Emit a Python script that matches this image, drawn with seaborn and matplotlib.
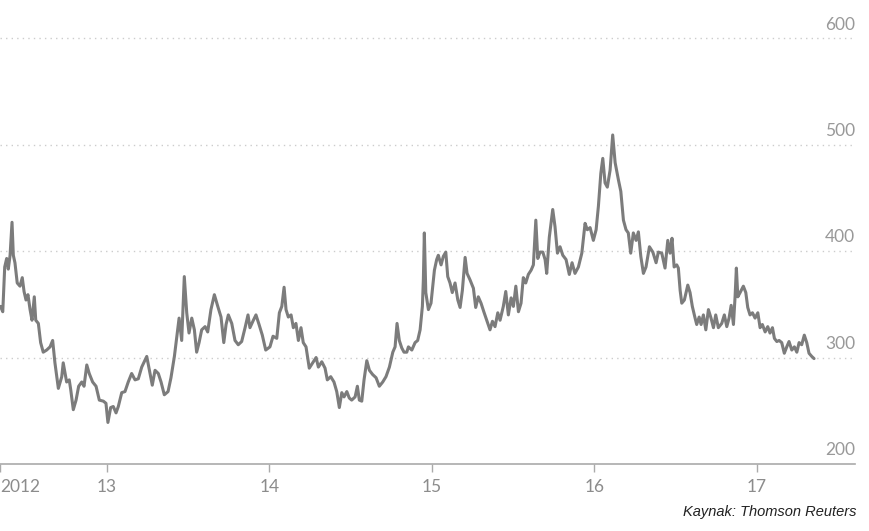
import pandas as pd
import matplotlib
matplotlib.use('Agg')
import matplotlib.pyplot as plt
import seaborn as sns

# zaman (ondalik yil) ve deger - grafikten okunan noktalar
yil = [
    2012.345, 2012.359, 2012.371, 2012.383, 2012.393, 2012.404, 2012.416, 2012.424, 2012.434, 2012.448, 2012.465,
    2012.479, 2012.490, 2012.502, 2012.514, 2012.527, 2012.539, 2012.553, 2012.562, 2012.578, 2012.592, 2012.608,
    2012.629, 2012.650, 2012.666, 2012.680, 2012.701, 2012.722, 2012.731, 2012.752, 2012.768, 2012.777, 2012.793,
    2012.810, 2012.826, 2012.845, 2012.859, 2012.876, 2012.891, 2012.912, 2012.933, 2012.953, 2012.978, 2012.994,
    2013.006, 2013.023, 2013.039, 2013.056, 2013.070, 2013.091, 2013.111, 2013.131, 2013.152, 2013.173, 2013.193,
    2013.214, 2013.245, 2013.265, 2013.279, 2013.296, 2013.316, 2013.333, 2013.353, 2013.376, 2013.394, 2013.415,
    2013.429, 2013.444, 2013.460, 2013.476, 2013.491, 2013.505, 2013.522, 2013.538, 2013.552, 2013.567, 2013.583,
    2013.604, 2013.620, 2013.640, 2013.661, 2013.682, 2013.702, 2013.719, 2013.733, 2013.747, 2013.768, 2013.788,
    2013.808, 2013.829, 2013.850, 2013.868, 2013.880, 2013.901, 2013.917, 2013.936, 2013.956, 2013.977,
    2014.003, 2014.022, 2014.045, 2014.061, 2014.076, 2014.090, 2014.102, 2014.116, 2014.133, 2014.147, 2014.163,
    2014.178, 2014.194, 2014.208, 2014.225, 2014.245, 2014.266, 2014.287, 2014.301, 2014.322, 2014.342, 2014.356,
    2014.377, 2014.397, 2014.414, 2014.430, 2014.445, 2014.459, 2014.476, 2014.491, 2014.506, 2014.527, 2014.541,
    2014.553, 2014.568, 2014.582, 2014.599, 2014.615, 2014.635, 2014.656, 2014.676, 2014.697, 2014.717, 2014.738,
    2014.759, 2014.773, 2014.785, 2014.799, 2014.814, 2014.828, 2014.845, 2014.855, 2014.876, 2014.896, 2014.912,
    2014.927, 2014.941, 2014.947, 2014.953, 2014.962, 2014.978, 2014.994,
    2015.015, 2015.029, 2015.039, 2015.056, 2015.070, 2015.085, 2015.097, 2015.111, 2015.125, 2015.142, 2015.159,
    2015.173, 2015.187, 2015.204, 2015.216, 2015.234, 2015.255, 2015.269, 2015.285, 2015.302, 2015.319, 2015.337,
    2015.357, 2015.372, 2015.388, 2015.405, 2015.419, 2015.439, 2015.454, 2015.470, 2015.487, 2015.501, 2015.516,
    2015.532, 2015.548, 2015.562, 2015.577, 2015.593, 2015.610, 2015.624, 2015.639, 2015.651, 2015.665, 2015.682,
    2015.696, 2015.706, 2015.722, 2015.743, 2015.757, 2015.772, 2015.788, 2015.805, 2015.825, 2015.845, 2015.862,
    2015.880, 2015.901, 2015.922, 2015.942, 2015.956, 2015.973, 2015.993,
    2016.010, 2016.024, 2016.039, 2016.051, 2016.065, 2016.079, 2016.096, 2016.112, 2016.127, 2016.147, 2016.162,
    2016.178, 2016.194, 2016.208, 2016.223, 2016.239, 2016.256, 2016.270, 2016.285, 2016.301, 2016.317, 2016.338,
    2016.359, 2016.379, 2016.393, 2016.414, 2016.434, 2016.451, 2016.465, 2016.477, 2016.490, 2016.506, 2016.516,
    2016.527, 2016.537, 2016.553, 2016.574, 2016.588, 2016.602, 2016.619, 2016.629, 2016.644, 2016.656, 2016.670,
    2016.685, 2016.701, 2016.717, 2016.732, 2016.746, 2016.762, 2016.783, 2016.799, 2016.814, 2016.828, 2016.841,
    2016.855, 2016.865, 2016.873, 2016.882, 2016.896, 2016.916, 2016.931, 2016.943, 2016.957, 2016.972, 2016.988,
    2017.005, 2017.019, 2017.033, 2017.050, 2017.066, 2017.080, 2017.095, 2017.107, 2017.122, 2017.136, 2017.152,
    2017.168, 2017.183, 2017.197, 2017.214, 2017.230, 2017.245, 2017.259, 2017.275, 2017.291, 2017.306, 2017.320,
    2017.337, 2017.351,
]
deger = [
    348, 343, 385, 393, 383, 396, 427, 396, 389, 370, 367,
    375, 362, 354, 359, 345, 335, 357, 335, 332, 314, 305,
    307, 310, 316, 295, 271, 282, 295, 277, 279, 270, 251,
    260, 273, 277, 273, 293, 285, 277, 273, 260, 259, 257,
    239, 253, 254, 248, 254, 267, 268, 277, 285, 279, 280,
    291, 301, 285, 274, 288, 285, 277, 265, 268, 281, 301,
    318, 337, 316, 376, 342, 323, 337, 326, 305, 314, 326,
    329, 324, 345, 359, 348, 338, 314, 331, 340, 332, 316,
    312, 315, 328, 340, 328, 335, 340, 331, 321, 307,
    310, 320, 318, 342, 348, 366, 345, 338, 340, 328, 332,
    316, 328, 314, 310, 290, 295, 300, 291, 296, 290, 279,
    282, 277, 268, 253, 267, 263, 268, 262, 260, 263, 273,
    260, 259, 279, 297, 288, 284, 281, 273, 277, 282, 291,
    305, 310, 332, 316, 309, 305, 305, 310, 307, 314, 316,
    326, 348, 373, 417, 361, 345, 351,
    382, 392, 396, 387, 395, 399, 376, 370, 361, 370, 354,
    347, 363, 394, 379, 373, 365, 347, 357, 351, 343, 335,
    326, 334, 329, 342, 335, 348, 362, 340, 356, 348, 367,
    343, 351, 375, 370, 378, 382, 387, 429, 393, 399, 399,
    392, 379, 413, 439, 423, 398, 404, 396, 392, 378, 389,
    379, 385, 398, 426, 420, 422, 410,
    420, 442, 473, 487, 464, 460, 476, 509, 483, 467, 456,
    429, 420, 417, 398, 417, 410, 418, 395, 379, 385, 404,
    399, 389, 399, 398, 384, 410, 398, 412, 385, 387, 384,
    363, 351, 354, 368, 361, 348, 337, 331, 338, 331, 340,
    326, 345, 337, 328, 340, 328, 332, 340, 329, 337, 349,
    331, 357, 384, 357, 361, 367, 361, 347, 340, 342, 337,
    342, 328, 331, 324, 329, 323, 328, 318, 315, 316, 314,
    304, 310, 315, 307, 310, 305, 314, 312, 321, 314, 304,
    301, 299,
]

x_etiket = ['2012', '13', '14', '15', '16', '17']
x_tick = [yil[0], 2013, 2014, 2015, 2016, 2017]
y_tick = [200, 300, 400, 500, 600]
kaynak = 'Kaynak: Thomson Reuters'

df = pd.DataFrame({'yil': yil, 'deger': deger})

sns.set_style('white')
plt.rcParams['font.family'] = ['Lato', 'DejaVu Sans']

fig = plt.figure(figsize=(8.69, 5.31), dpi=100)
ax = fig.add_axes([0, 0.1262, 0.9839, 0.836])

sns.lineplot(data=df, x='yil', y='deger', ax=ax, color='#7c7c7c',
             linewidth=2.2, estimator=None)

ax.set_xlim(2012.342, 2017.603)
ax.set_ylim(200, 616.9)

# noktali yatay cizgiler
for v in y_tick[1:]:
    ax.axhline(v, color='#cccccc', linewidth=1, linestyle=(0, (1, 3)), zorder=0)

# y etiketleri cizginin ustunde, sagda
for v in y_tick:
    ax.annotate(str(v), xy=(1.0, v), xycoords=ax.get_yaxis_transform(),
                xytext=(0, 4), textcoords='offset points',
                ha='right', va='bottom', fontsize=12.5, color='#999999')
ax.set_yticks([])

ax.set_xticks(x_tick)
ax.set_xticklabels(x_etiket)
ax.get_xticklabels()[0].set_horizontalalignment('left')
ax.tick_params(axis='x', direction='out', length=5.5, width=1, color='#aaaaaa',
               labelsize=12.5, labelcolor='#8c8c8c', pad=5, bottom=True)

for s in ['top', 'left', 'right']:
    ax.spines[s].set_visible(False)
ax.spines['bottom'].set_color('#aaaaaa')
ax.spines['bottom'].set_linewidth(1.2)

ax.set_xlabel('')
ax.set_ylabel('')

fig.text(0.986, 0.022, kaynak, ha='right', va='bottom', fontsize=10.5,
         style='italic', color='#222222', family=['Liberation Sans', 'DejaVu Sans'])

fig.savefig('out.png', dpi=100)
